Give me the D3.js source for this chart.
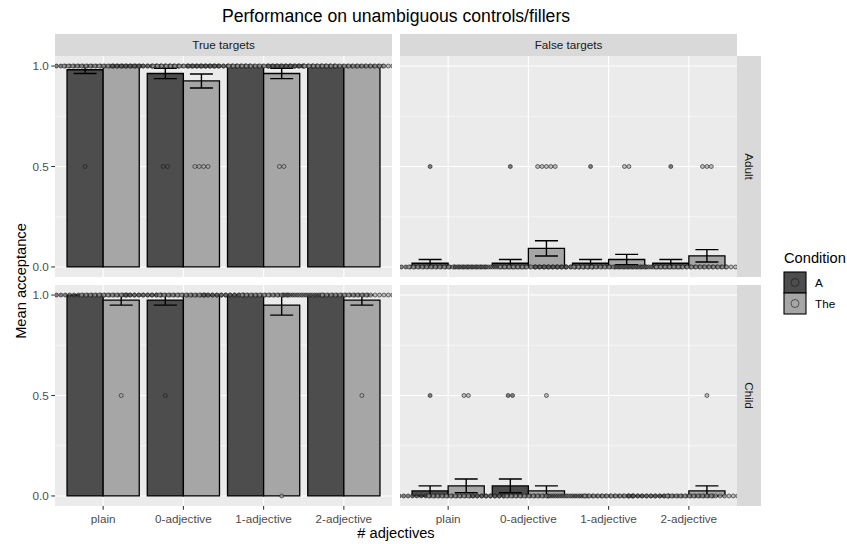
<!DOCTYPE html>
<html>
<head>
<meta charset="utf-8">
<script src="https://cdn.jsdelivr.net/npm/d3@7"></script>
<style>
  body { margin: 0; background: #fff; }
  text { font-family: "Liberation Sans", Arial, Helvetica, sans-serif; }
</style>
</head>
<body>
<svg id="chart" width="847" height="544"></svg>
<script>
// categories
var adjectives = ['plain', '0-adjective', '1-adjective', '2-adjective'];
var conditions = ['A', 'The'];
var targets = ['True targets', 'False targets'];
var groups = ['Adult', 'Child'];
var yTicks = [0, 0.5, 1];
var yMinor = [0.25, 0.75];

// response values a participant could give
var responseLevels = [0, 0.5, 1];

// number of participants per response level [0, 0.5, 1], one entry per adjective
var adultTrueA = [[0, 1, 26], [0, 2, 25], [0, 0, 27], [0, 0, 27]];
var adultTrueThe = [[0, 0, 27], [0, 4, 23], [0, 2, 25], [0, 0, 27]];
var adultFalseA = [[26, 1, 0], [26, 1, 0], [26, 1, 0], [26, 1, 0]];
var adultFalseThe = [[27, 0, 0], [22, 5, 0], [25, 2, 0], [24, 3, 0]];
var childTrueA = [[0, 0, 20], [0, 1, 19], [0, 0, 20], [0, 0, 20]];
var childTrueThe = [[0, 1, 19], [0, 0, 20], [1, 0, 19], [0, 1, 19]];
var childFalseA = [[19, 1, 0], [18, 2, 0], [20, 0, 0], [20, 0, 0]];
var childFalseThe = [[18, 2, 0], [19, 1, 0], [20, 0, 0], [19, 1, 0]];

var panelCounts = {
  'Adult|True targets': { A: adultTrueA, The: adultTrueThe },
  'Adult|False targets': { A: adultFalseA, The: adultFalseThe },
  'Child|True targets': { A: childTrueA, The: childTrueThe },
  'Child|False targets': { A: childFalseA, The: childFalseThe }
};

var fills = { A: '#4d4d4d', The: '#a6a6a6' };

var panelW = 337;
var panelH = 221;
var panelX = [55, 400];
var panelY = [56, 285];
var stripH = 22;
var stripW = 24;
var dotD = 4.4;

var svg = d3.select('#chart');

var x = d3.scalePoint().domain(adjectives).range([0, panelW]).padding(0.6);
var xDodge = d3.scaleBand().domain(conditions)
  .range([-0.45 * x.step(), 0.45 * x.step()]);
var y = d3.scaleLinear().domain([-0.05, 1.05]).range([panelH, 0]);

function cellStats(counts) {
  var vals = [];
  counts.forEach(function (n, i) {
    for (var k = 0; k < n; k++) { vals.push(responseLevels[i]); }
  });
  var sd = d3.deviation(vals) || 0;
  return { mean: d3.mean(vals), se: sd / Math.sqrt(vals.length) };
}

function styleDot(sel) {
  sel.attr('fill', function (d) { return fills[d.cond || d]; })
    .attr('fill-opacity', 0.7)
    .attr('stroke', '#1a1a1a')
    .attr('stroke-opacity', 0.75)
    .attr('stroke-width', 0.8);
}

// title
svg.append('text')
  .attr('x', panelX[0] + (panelX[1] + panelW - panelX[0]) / 2)
  .attr('y', 22)
  .attr('text-anchor', 'middle')
  .style('font-size', '17.6px')
  .text('Performance on unambiguous controls/fillers');

groups.forEach(function (group, r) {
  targets.forEach(function (target, c) {
    var counts = panelCounts[group + '|' + target];
    var g = svg.append('g')
      .attr('transform', 'translate(' + panelX[c] + ',' + panelY[r] + ')');

    var clipId = 'clip-' + r + '-' + c;
    g.append('clipPath').attr('id', clipId)
      .append('rect').attr('width', panelW).attr('height', panelH);

    g.append('rect')
      .attr('width', panelW).attr('height', panelH)
      .attr('fill', '#ebebeb');

    // grid
    g.selectAll('.minor').data(yMinor).enter().append('line')
      .attr('x1', 0).attr('x2', panelW)
      .attr('y1', y).attr('y2', y)
      .attr('stroke', '#fff').attr('stroke-width', 0.55);
    g.selectAll('.major-y').data(yTicks).enter().append('line')
      .attr('x1', 0).attr('x2', panelW)
      .attr('y1', y).attr('y2', y)
      .attr('stroke', '#fff').attr('stroke-width', 1.1);
    g.selectAll('.major-x').data(adjectives).enter().append('line')
      .attr('x1', x).attr('x2', x)
      .attr('y1', 0).attr('y2', panelH)
      .attr('stroke', '#fff').attr('stroke-width', 1.1);

    var cells = [];
    adjectives.forEach(function (adj, i) {
      conditions.forEach(function (cond) {
        var s = cellStats(counts[cond][i]);
        cells.push({
          adj: adj, cond: cond, counts: counts[cond][i],
          mean: s.mean, se: s.se,
          cx: x(adj) + xDodge(cond) + xDodge.bandwidth() / 2
        });
      });
    });

    var plot = g.append('g').attr('clip-path', 'url(#' + clipId + ')');

    // bars (path so zero-height bars still draw their outline)
    plot.selectAll('.bar').data(cells).enter().append('path')
      .attr('d', function (d) {
        var x0 = x(d.adj) + xDodge(d.cond);
        var x1 = x0 + xDodge.bandwidth();
        return 'M' + x0 + ',' + y(0) + 'H' + x1 + 'V' + y(d.mean) + 'H' + x0 + 'Z';
      })
      .attr('fill', function (d) { return fills[d.cond]; })
      .attr('stroke', '#000')
      .attr('stroke-width', 1.3);

    // error bars
    var capW = 11.5;
    plot.selectAll('.eb').data(cells).enter().append('path')
      .attr('d', function (d) {
        var lo = y(d.mean - d.se);
        var hi = y(d.mean + d.se);
        return 'M' + (d.cx - capW) + ',' + hi + 'H' + (d.cx + capW) +
          'M' + d.cx + ',' + hi + 'V' + lo +
          'M' + (d.cx - capW) + ',' + lo + 'H' + (d.cx + capW);
      })
      .attr('fill', 'none')
      .attr('stroke', '#000')
      .attr('stroke-width', 1.4);

    // dots stacked horizontally, centred on each bar
    var dots = [];
    cells.forEach(function (d) {
      d.counts.forEach(function (n, li) {
        for (var k = 0; k < n; k++) {
          dots.push({
            cond: d.cond,
            cx: d.cx + (k - (n - 1) / 2) * dotD,
            value: responseLevels[li]
          });
        }
      });
    });
    plot.selectAll('.dot').data(dots).enter().append('circle')
      .attr('cx', function (d) { return d.cx; })
      .attr('cy', function (d) { return y(d.value); })
      .attr('r', dotD / 2 - 0.2)
      .call(styleDot);

    // top strips
    if (r === 0) {
      var st = svg.append('g')
        .attr('transform', 'translate(' + panelX[c] + ',' + (panelY[0] - stripH) + ')');
      st.append('rect').attr('width', panelW).attr('height', stripH).attr('fill', '#d9d9d9');
      st.append('text')
        .attr('x', panelW / 2).attr('y', stripH / 2).attr('dy', '0.35em')
        .attr('text-anchor', 'middle')
        .style('font-size', '11.7px').attr('fill', '#1a1a1a')
        .text(target);
    }

    // right strips
    if (c === 1) {
      var rs = svg.append('g')
        .attr('transform', 'translate(' + (panelX[1] + panelW) + ',' + panelY[r] + ')');
      rs.append('rect').attr('width', stripW).attr('height', panelH).attr('fill', '#d9d9d9');
      rs.append('text')
        .attr('transform', 'translate(' + (stripW / 2) + ',' + (panelH / 2) + ') rotate(90)')
        .attr('dy', '0.35em')
        .attr('text-anchor', 'middle')
        .style('font-size', '11.7px').attr('fill', '#1a1a1a')
        .text(group);
    }

    // y axis on left column
    if (c === 0) {
      var ya = g.append('g');
      ya.selectAll('line').data(yTicks).enter().append('line')
        .attr('x1', -3.7).attr('x2', 0)
        .attr('y1', y).attr('y2', y)
        .attr('stroke', '#333').attr('stroke-width', 1.07);
      ya.selectAll('text').data(yTicks).enter().append('text')
        .attr('x', -6.3).attr('y', y).attr('dy', '0.35em')
        .attr('text-anchor', 'end')
        .style('font-size', '11.7px').attr('fill', '#4d4d4d')
        .text(d3.format('.1f'));
    }

    // x axis on bottom row
    if (r === 1) {
      var xa = g.append('g').attr('transform', 'translate(0,' + panelH + ')');
      xa.selectAll('line').data(adjectives).enter().append('line')
        .attr('x1', x).attr('x2', x)
        .attr('y1', 0).attr('y2', 3.7)
        .attr('stroke', '#333').attr('stroke-width', 1.07);
      xa.selectAll('text').data(adjectives).enter().append('text')
        .attr('x', x).attr('y', 17)
        .attr('text-anchor', 'middle')
        .style('font-size', '11.7px').attr('fill', '#4d4d4d')
        .text(function (d) { return d; });
    }
  });
});

// axis titles
svg.append('text')
  .attr('x', panelX[0] + (panelX[1] + panelW - panelX[0]) / 2)
  .attr('y', 538)
  .attr('text-anchor', 'middle')
  .style('font-size', '14.67px')
  .text('# adjectives');

svg.append('text')
  .attr('transform', 'translate(26,' + (panelY[0] + (panelY[1] + panelH - panelY[0]) / 2) + ') rotate(-90)')
  .attr('text-anchor', 'middle')
  .style('font-size', '14.67px')
  .text('Mean acceptance');

// legend
var legend = svg.append('g').attr('transform', 'translate(784,263)');
legend.append('text')
  .style('font-size', '14.67px')
  .text('Condition');
var keys = legend.selectAll('.key').data(conditions).enter().append('g')
  .attr('transform', function (d, i) { return 'translate(0,' + (9 + i * 21) + ')'; });
keys.append('rect')
  .attr('width', 22).attr('height', 21)
  .attr('fill', function (d) { return fills[d]; })
  .attr('stroke', '#000').attr('stroke-width', 1.1);
keys.append('circle')
  .attr('cx', 11).attr('cy', 10.5).attr('r', 4)
  .call(styleDot);
keys.append('text')
  .attr('x', 31).attr('y', 10.5).attr('dy', '0.35em')
  .style('font-size', '11.7px')
  .text(function (d) { return d; });
</script>
</body>
</html>
